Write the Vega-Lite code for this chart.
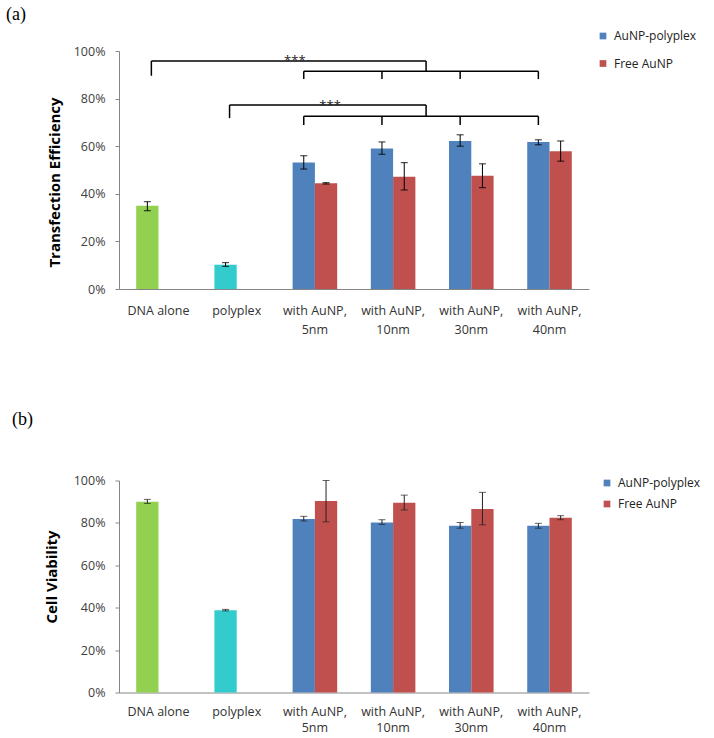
{
  "$schema": "https://vega.github.io/schema/vega-lite/v6.json",
  "background": "white",
  "padding": {"left": 6, "top": 6, "right": 5, "bottom": 14},
  "spacing": 74.5,
  "config": {
    "view": {"stroke": null},
    "font": "Open Sans",
    "axis": {"grid": false, "domainColor": "#868686", "tickColor": "#868686", "labelColor": "#404040", "labelFont": "Open Sans", "labelFontSize": 12.5, "titleFont": "Open Sans", "titleFontSize": 15, "titleFontWeight": "bold", "titleColor": "#000000"},
    "legend": {"labelFont": "Open Sans", "labelFontSize": 12, "labelColor": "#222222", "symbolType": "square", "symbolSize": 45, "symbolStrokeWidth": 0},
    "title": {"font": "Liberation Serif", "fontSize": 18, "fontWeight": "normal", "anchor": "start", "frame": "group", "color": "#000000"}
  },
  "datasets": {
    "transfection": [
      {"condition": "DNA alone", "series": "AuNP-polyplex", "colorKey": "DNA alone", "value": 0.35, "lo": 0.329, "hi": 0.367},
      {"condition": "polyplex", "series": "AuNP-polyplex", "colorKey": "polyplex", "value": 0.102, "lo": 0.095, "hi": 0.111},
      {"condition": "with AuNP,|5nm", "series": "AuNP-polyplex", "colorKey": "AuNP-polyplex", "value": 0.532, "lo": 0.504, "hi": 0.56},
      {"condition": "with AuNP,|5nm", "series": "Free AuNP", "colorKey": "Free AuNP", "value": 0.444, "lo": 0.441, "hi": 0.447},
      {"condition": "with AuNP,|10nm", "series": "AuNP-polyplex", "colorKey": "AuNP-polyplex", "value": 0.59, "lo": 0.566, "hi": 0.618},
      {"condition": "with AuNP,|10nm", "series": "Free AuNP", "colorKey": "Free AuNP", "value": 0.472, "lo": 0.416, "hi": 0.531},
      {"condition": "with AuNP,|30nm", "series": "AuNP-polyplex", "colorKey": "AuNP-polyplex", "value": 0.622, "lo": 0.6, "hi": 0.648},
      {"condition": "with AuNP,|30nm", "series": "Free AuNP", "colorKey": "Free AuNP", "value": 0.476, "lo": 0.426, "hi": 0.526},
      {"condition": "with AuNP,|40nm", "series": "AuNP-polyplex", "colorKey": "AuNP-polyplex", "value": 0.618, "lo": 0.606, "hi": 0.627},
      {"condition": "with AuNP,|40nm", "series": "Free AuNP", "colorKey": "Free AuNP", "value": 0.579, "lo": 0.537, "hi": 0.622}
    ],
    "viability": [
      {"condition": "DNA alone", "series": "AuNP-polyplex", "colorKey": "DNA alone", "value": 0.9, "lo": 0.892, "hi": 0.911},
      {"condition": "polyplex", "series": "AuNP-polyplex", "colorKey": "polyplex", "value": 0.388, "lo": 0.385, "hi": 0.392},
      {"condition": "with AuNP,|5nm", "series": "AuNP-polyplex", "colorKey": "AuNP-polyplex", "value": 0.818, "lo": 0.809, "hi": 0.831},
      {"condition": "with AuNP,|5nm", "series": "Free AuNP", "colorKey": "Free AuNP", "value": 0.903, "lo": 0.805, "hi": 1.0},
      {"condition": "with AuNP,|10nm", "series": "AuNP-polyplex", "colorKey": "AuNP-polyplex", "value": 0.802, "lo": 0.793, "hi": 0.815},
      {"condition": "with AuNP,|10nm", "series": "Free AuNP", "colorKey": "Free AuNP", "value": 0.895, "lo": 0.861, "hi": 0.931},
      {"condition": "with AuNP,|30nm", "series": "AuNP-polyplex", "colorKey": "AuNP-polyplex", "value": 0.786, "lo": 0.775, "hi": 0.802},
      {"condition": "with AuNP,|30nm", "series": "Free AuNP", "colorKey": "Free AuNP", "value": 0.865, "lo": 0.791, "hi": 0.944},
      {"condition": "with AuNP,|40nm", "series": "AuNP-polyplex", "colorKey": "AuNP-polyplex", "value": 0.786, "lo": 0.775, "hi": 0.798},
      {"condition": "with AuNP,|40nm", "series": "Free AuNP", "colorKey": "Free AuNP", "value": 0.824, "lo": 0.815, "hi": 0.834}
    ],
    "bracketTopTicks": [
      {"condition": "DNA alone", "y1": 0.896, "y2": 0.958},
      {"condition": "polyplex", "y1": 0.718, "y2": 0.773}
    ],
    "bracketTicks": [
      {"condition": "with AuNP,|5nm", "y1": 0.882, "y2": 0.915},
      {"condition": "with AuNP,|10nm", "y1": 0.882, "y2": 0.915},
      {"condition": "with AuNP,|30nm", "y1": 0.882, "y2": 0.915},
      {"condition": "with AuNP,|40nm", "y1": 0.882, "y2": 0.915},
      {"condition": "with AuNP,|5nm", "y1": 0.689, "y2": 0.726},
      {"condition": "with AuNP,|10nm", "y1": 0.689, "y2": 0.726},
      {"condition": "with AuNP,|30nm", "y1": 0.689, "y2": 0.726},
      {"condition": "with AuNP,|40nm", "y1": 0.689, "y2": 0.726}
    ],
    "bracketSpans": [
      {"from": "with AuNP,|5nm", "to": "with AuNP,|40nm", "y": 0.915},
      {"from": "with AuNP,|5nm", "to": "with AuNP,|40nm", "y": 0.726}
    ],
    "bracketArms": [
      {"from": "DNA alone", "to": "with AuNP,|10nm", "y": 0.958},
      {"from": "polyplex", "to": "with AuNP,|10nm", "y": 0.773}
    ],
    "connectors": [
      {"condition": "with AuNP,|10nm", "y1": 0.915, "y2": 0.958},
      {"condition": "with AuNP,|10nm", "y1": 0.726, "y2": 0.773}
    ],
    "starTop": [{"condition": "with AuNP,|5nm", "y": 0.94, "label": "***"}],
    "starBottom": [{"condition": "with AuNP,|5nm", "y": 0.754, "label": "***"}]
  },
  "vconcat": [
    {
      "title": {"text": "(a)", "dx": -113, "offset": 6},
      "width": 470,
      "height": 238,
      "layer": [
        {
          "data": {"name": "transfection"},
          "mark": {"type": "bar"},
          "encoding": {
            "x": {"field": "condition", "type": "nominal", "sort": null, "title": null,
              "scale": {"domain": ["DNA alone", "polyplex", "with AuNP,|5nm", "with AuNP,|10nm", "with AuNP,|30nm", "with AuNP,|40nm"], "paddingInner": 0.43, "paddingOuter": 0.22},
              "axis": {"title": null, "labelAngle": 0, "ticks": false, "labelPadding": 15, "labelExpr": "split(datum.value, '|')", "labelLineHeight": 19, "labelColor": "#333333"}},
            "xOffset": {"field": "series", "type": "nominal", "scale": {"domain": ["AuNP-polyplex", "Free AuNP"], "paddingInner": 0, "paddingOuter": 0}},
            "y": {"field": "value", "type": "quantitative", "title": "Transfection Efficiency", "scale": {"domain": [0, 1]},
              "axis": {"title": "Transfection Efficiency", "format": ".0%", "values": [0, 0.2, 0.4, 0.6, 0.8, 1], "tickSize": 4, "labelPadding": 10, "titleX": -57, "titleY": 131, "titleBaseline": "bottom"}},
            "color": {"field": "colorKey", "type": "nominal",
              "scale": {"domain": ["AuNP-polyplex", "Free AuNP", "DNA alone", "polyplex"], "range": ["#4F81BD", "#C0504D", "#92D050", "#33CCCC"]},
              "legend": {"title": null, "values": ["AuNP-polyplex", "Free AuNP"], "orient": "none", "legendX": 478, "legendY": -21, "rowPadding": 15.5, "labelOffset": 5}}
          }
        },
        {
          "data": {"name": "transfection"},
          "mark": {"type": "rule", "color": "#000000", "strokeWidth": 1},
          "encoding": {
            "x": {"field": "condition", "type": "nominal", "sort": null, "title": null},
            "xOffset": {"field": "series", "type": "nominal"},
            "y": {"field": "lo", "type": "quantitative", "title": "Transfection Efficiency"},
            "y2": {"field": "hi"}
          }
        },
        {
          "data": {"name": "transfection"},
          "mark": {"type": "tick", "color": "#000000", "size": 7, "thickness": 1.2},
          "encoding": {
            "x": {"field": "condition", "type": "nominal", "sort": null, "title": null},
            "xOffset": {"field": "series", "type": "nominal"},
            "y": {"field": "lo", "type": "quantitative", "title": "Transfection Efficiency"}
          }
        },
        {
          "data": {"name": "transfection"},
          "mark": {"type": "tick", "color": "#000000", "size": 7, "thickness": 1.2},
          "encoding": {
            "x": {"field": "condition", "type": "nominal", "sort": null, "title": null},
            "xOffset": {"field": "series", "type": "nominal"},
            "y": {"field": "hi", "type": "quantitative", "title": "Transfection Efficiency"}
          }
        },
        {
          "data": {"name": "bracketTopTicks"},
          "mark": {"type": "rule", "color": "#000000", "strokeWidth": 1.5},
          "encoding": {
            "x": {"field": "condition", "type": "nominal", "sort": null, "bandPosition": 0.34, "title": null},
            "y": {"field": "y1", "type": "quantitative", "title": "Transfection Efficiency"},
            "y2": {"field": "y2"}
          }
        },
        {
          "data": {"name": "bracketTicks"},
          "mark": {"type": "rule", "color": "#000000", "strokeWidth": 1.5},
          "encoding": {
            "x": {"field": "condition", "type": "nominal", "sort": null, "bandPosition": 0.25, "title": null},
            "y": {"field": "y1", "type": "quantitative", "title": "Transfection Efficiency"},
            "y2": {"field": "y2"}
          }
        },
        {
          "data": {"name": "bracketSpans"},
          "mark": {"type": "rule", "color": "#000000", "strokeWidth": 1.5},
          "encoding": {
            "x": {"field": "from", "type": "nominal", "sort": null, "bandPosition": 0.25, "title": null},
            "x2": {"field": "to", "bandPosition": 0.25},
            "y": {"field": "y", "type": "quantitative", "title": "Transfection Efficiency"}
          }
        },
        {
          "data": {"name": "bracketArms"},
          "mark": {"type": "rule", "color": "#000000", "strokeWidth": 1.5},
          "encoding": {
            "x": {"field": "from", "type": "nominal", "sort": null, "bandPosition": 0.34, "title": null},
            "x2": {"field": "to", "bandPosition": 1.24},
            "y": {"field": "y", "type": "quantitative", "title": "Transfection Efficiency"}
          }
        },
        {
          "data": {"name": "connectors"},
          "mark": {"type": "rule", "color": "#000000", "strokeWidth": 1.5},
          "encoding": {
            "x": {"field": "condition", "type": "nominal", "sort": null, "bandPosition": 1.24, "title": null},
            "y": {"field": "y1", "type": "quantitative", "title": "Transfection Efficiency"},
            "y2": {"field": "y2"}
          }
        },
        {
          "data": {"name": "starTop"},
          "mark": {"type": "text", "fontSize": 13, "color": "#222222", "baseline": "alphabetic", "align": "center"},
          "encoding": {
            "x": {"field": "condition", "type": "nominal", "sort": null, "bandPosition": 0.05, "title": null},
            "y": {"field": "y", "type": "quantitative", "title": "Transfection Efficiency"},
            "text": {"field": "label"}
          }
        },
        {
          "data": {"name": "starBottom"},
          "mark": {"type": "text", "fontSize": 13, "color": "#222222", "baseline": "alphabetic", "align": "center"},
          "encoding": {
            "x": {"field": "condition", "type": "nominal", "sort": null, "bandPosition": 0.84, "title": null},
            "y": {"field": "y", "type": "quantitative", "title": "Transfection Efficiency"},
            "text": {"field": "label"}
          }
        }
      ]
    },
    {
      "title": {"text": "(b)", "dx": -107, "offset": 46},
      "width": 470,
      "height": 212,
      "layer": [
        {
          "data": {"name": "viability"},
          "mark": {"type": "bar"},
          "encoding": {
            "x": {"field": "condition", "type": "nominal", "sort": null, "title": null,
              "scale": {"domain": ["DNA alone", "polyplex", "with AuNP,|5nm", "with AuNP,|10nm", "with AuNP,|30nm", "with AuNP,|40nm"], "paddingInner": 0.43, "paddingOuter": 0.22},
              "axis": {"title": null, "labelAngle": 0, "ticks": false, "labelPadding": 13, "labelExpr": "split(datum.value, '|')", "labelLineHeight": 16, "labelColor": "#333333"}},
            "xOffset": {"field": "series", "type": "nominal", "scale": {"domain": ["AuNP-polyplex", "Free AuNP"], "paddingInner": 0, "paddingOuter": 0}},
            "y": {"field": "value", "type": "quantitative", "title": "Cell Viability", "scale": {"domain": [0, 1]},
              "axis": {"title": "Cell Viability", "format": ".0%", "values": [0, 0.2, 0.4, 0.6, 0.8, 1], "tickSize": 4, "labelPadding": 10, "titleX": -60, "titleY": 96, "titleBaseline": "bottom"}},
            "color": {"field": "colorKey", "type": "nominal",
              "scale": {"domain": ["AuNP-polyplex", "Free AuNP", "DNA alone", "polyplex"], "range": ["#4F81BD", "#C0504D", "#92D050", "#33CCCC"]},
              "legend": {"title": null, "values": ["AuNP-polyplex", "Free AuNP"], "orient": "none", "legendX": 482, "legendY": -3.5, "rowPadding": 9, "labelOffset": 5}}
          }
        },
        {
          "data": {"name": "viability"},
          "mark": {"type": "rule", "color": "#222222", "strokeWidth": 1},
          "encoding": {
            "x": {"field": "condition", "type": "nominal", "sort": null, "title": null},
            "xOffset": {"field": "series", "type": "nominal"},
            "y": {"field": "lo", "type": "quantitative", "title": "Cell Viability"},
            "y2": {"field": "hi"}
          }
        },
        {
          "data": {"name": "viability"},
          "mark": {"type": "tick", "color": "#222222", "size": 7, "thickness": 1},
          "encoding": {
            "x": {"field": "condition", "type": "nominal", "sort": null, "title": null},
            "xOffset": {"field": "series", "type": "nominal"},
            "y": {"field": "lo", "type": "quantitative", "title": "Cell Viability"}
          }
        },
        {
          "data": {"name": "viability"},
          "mark": {"type": "tick", "color": "#222222", "size": 7, "thickness": 1},
          "encoding": {
            "x": {"field": "condition", "type": "nominal", "sort": null, "title": null},
            "xOffset": {"field": "series", "type": "nominal"},
            "y": {"field": "hi", "type": "quantitative", "title": "Cell Viability"}
          }
        }
      ]
    }
  ],
  "resolve": {"scale": {"color": "independent", "x": "independent", "y": "independent"}}
}
